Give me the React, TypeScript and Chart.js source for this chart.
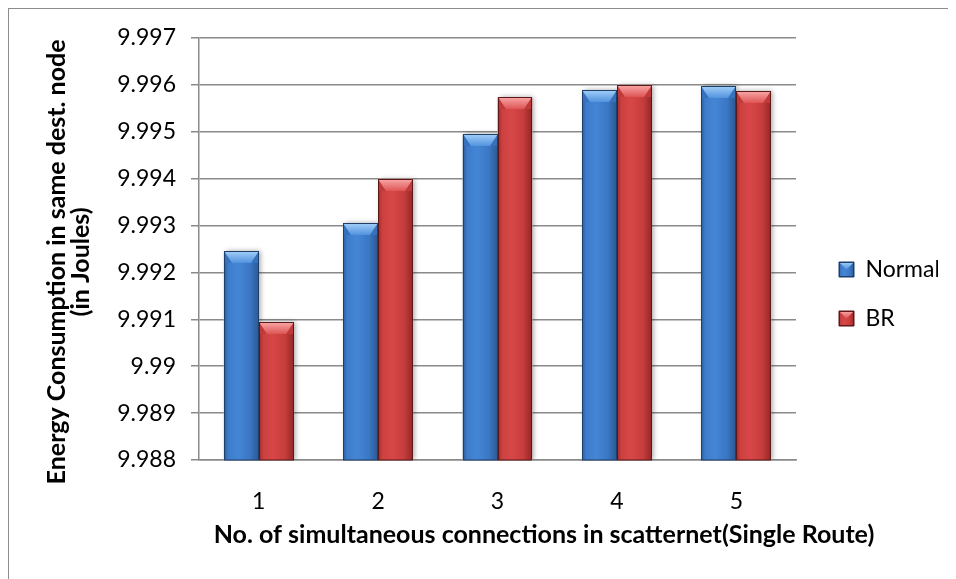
import React, { useEffect, useRef } from "react";
import { Chart, registerables } from "chart.js";

Chart.register(...registerables);

// ---- data ----
const categories = ["1", "2", "3", "4", "5"];
const seriesNames = ["Normal", "BR"];
const normalValues = [9.99245, 9.99305, 9.99494, 9.99588, 9.99597];
const brValues = [9.99094, 9.994, 9.99573, 9.996, 9.99586];
const yMin = 9.988;
const yMax = 9.997;
const yStep = 0.001;
const xTitle = "No. of simultaneous connections in scatternet(Single Route)";
const yTitleLines = ["Energy Consumption in same dest. node", "(in Joules)"];

// ---- styles ----
const FONT = "Lato, 'Open Sans', sans-serif";
const GRID = "#8a8a8a";
const LEGEND_FONT = 23;
const BOX = 15;

const palettes = [
  {
    base: "#3f7fcf",
    border: "#1f3f6b",
    stops: [
      [0, "#2d5c9a"],
      [0.12, "#3d7cca"],
      [0.4, "#4486d6"],
      [0.75, "#3a76c3"],
      [1, "#2b5891"],
    ],
    bevelTop: "#a3d0f9",
    bevelBottom: "#5292de",
    side: "#3571bd",
  },
  {
    base: "#d14343",
    border: "#5e1818",
    stops: [
      [0, "#9c2a2a"],
      [0.12, "#cc4040"],
      [0.4, "#d84747"],
      [0.75, "#c63c3c"],
      [1, "#922626"],
    ],
    bevelTop: "#f9a8a8",
    bevelBottom: "#de5555",
    side: "#c03a3a",
  },
];

const formatTick = (v: number) => String(parseFloat(Number(v).toFixed(3)));

const barStylePlugin = {
  id: "barStyle",
  beforeDatasetsDraw(chart: any) {
    const { ctx, chartArea } = chart;
    ctx.save();
    ctx.beginPath();
    ctx.rect(chartArea.left, chartArea.top - 20, chartArea.right - chartArea.left + 10, chartArea.bottom - chartArea.top + 20);
    ctx.clip();
    chart.data.datasets.forEach((_ds: any, di: number) => {
      const meta = chart.getDatasetMeta(di);
      meta.data.forEach((el: any) => {
        const { x, y, width } = el.getProps(["x", "y", "width"], true);
        ctx.shadowColor = "rgba(0,0,0,0.35)";
        ctx.shadowBlur = 5;
        ctx.shadowOffsetX = 2;
        ctx.shadowOffsetY = 0;
        ctx.fillStyle = "#ffffff";
        ctx.fillRect(x - width / 2, y, width, chartArea.bottom - y);
      });
    });
    ctx.restore();
  },
  afterDatasetsDraw(chart: any) {
    const { ctx, chartArea } = chart;
    ctx.save();
    chart.data.datasets.forEach((_ds: any, di: number) => {
      const pal = palettes[di];
      const meta = chart.getDatasetMeta(di);
      meta.data.forEach((el: any) => {
        const { x, y, width, base } = el.getProps(["x", "y", "width", "base"], true);
        const l = Math.round(x - width / 2);
        const r = Math.round(x + width / 2);
        const t = Math.round(y);
        const b = Math.round(Math.min(base, chartArea.bottom));
        const g = ctx.createLinearGradient(l, 0, r, 0);
        pal.stops.forEach(([o, c]: any) => g.addColorStop(o, c));
        ctx.fillStyle = g;
        ctx.fillRect(l, t, r - l, b - t);
        const bh = Math.min(12, (b - t) / 2);
        const inset = Math.min(8, (r - l) / 2);
        ctx.fillStyle = pal.side;
        ctx.beginPath();
        ctx.moveTo(l, t);
        ctx.lineTo(l + inset, t + bh);
        ctx.lineTo(l, t + bh);
        ctx.closePath();
        ctx.fill();
        ctx.beginPath();
        ctx.moveTo(r, t);
        ctx.lineTo(r - inset, t + bh);
        ctx.lineTo(r, t + bh);
        ctx.closePath();
        ctx.fill();
        const bg = ctx.createLinearGradient(0, t, 0, t + bh);
        bg.addColorStop(0, pal.bevelTop);
        bg.addColorStop(1, pal.bevelBottom);
        ctx.fillStyle = bg;
        ctx.beginPath();
        ctx.moveTo(l, t);
        ctx.lineTo(r, t);
        ctx.lineTo(r - inset, t + bh);
        ctx.lineTo(l + inset, t + bh);
        ctx.closePath();
        ctx.fill();
        ctx.strokeStyle = pal.border;
        ctx.lineWidth = 1;
        ctx.strokeRect(l + 0.5, t + 0.5, r - l - 1, b - t - 0.5);
      });
    });
    ctx.restore();
  },
  afterDraw(chart: any) {
    const { ctx, chartArea } = chart;
    ctx.save();
    // legend box bevel
    const legend = chart.legend;
    if (legend && legend.legendHitBoxes) {
      legend.legendHitBoxes.forEach((hb: any, i: number) => {
        const pal = palettes[i];
        const bx = Math.round(hb.left);
        const by = Math.round(hb.top + Math.max((LEGEND_FONT - BOX) / 2, 0));
        const g = ctx.createLinearGradient(bx, 0, bx + BOX, 0);
        pal.stops.forEach(([o, c]: any) => g.addColorStop(o, c));
        ctx.fillStyle = g;
        ctx.fillRect(bx, by, BOX, BOX);
        const tg = ctx.createLinearGradient(0, by, 0, by + BOX / 2);
        tg.addColorStop(0, pal.bevelTop);
        tg.addColorStop(1, pal.bevelBottom);
        ctx.fillStyle = tg;
        ctx.beginPath();
        ctx.moveTo(bx, by);
        ctx.lineTo(bx + BOX, by);
        ctx.lineTo(bx + BOX / 2, by + BOX / 2);
        ctx.closePath();
        ctx.fill();
        ctx.strokeStyle = pal.border;
        ctx.lineWidth = 1;
        ctx.strokeRect(bx + 0.5, by + 0.5, BOX - 1, BOX - 1);
      });
    }
    // axis titles
    ctx.fillStyle = "#000";
    ctx.font = `bold 25px ${FONT}`;
    ctx.textAlign = "center";
    ctx.textBaseline = "middle";
    ctx.fillText(xTitle, chartArea.left + 345, chartArea.bottom + 75);
    const cx = chartArea.left - 130;
    const cy = (chartArea.top + chartArea.bottom) / 2 + 13;
    ctx.translate(cx, cy);
    ctx.rotate(-Math.PI / 2);
    const lh = 24;
    const n = yTitleLines.length;
    yTitleLines.forEach((line, i) => ctx.fillText(line, 0, (i - (n - 1) / 2) * lh));
    ctx.restore();
  },
};

export default function App() {
  const ref = useRef<HTMLCanvasElement>(null);
  useEffect(() => {
    const chart = new Chart(ref.current as HTMLCanvasElement, {
      type: "bar",
      data: {
        labels: categories,
        datasets: [
          {
            label: seriesNames[0],
            data: normalValues,
            backgroundColor: palettes[0].base,
            borderColor: palettes[0].border,
            borderWidth: 1,
            categoryPercentage: 0.586,
            barPercentage: 1,
          },
          {
            label: seriesNames[1],
            data: brValues,
            backgroundColor: palettes[1].base,
            borderColor: palettes[1].border,
            borderWidth: 1,
            categoryPercentage: 0.586,
            barPercentage: 1,
          },
        ],
      },
      options: {
        responsive: false,
        animation: false,
        layout: { padding: { left: 0, right: 10, top: 0, bottom: 0 } },
        plugins: {
          title: {
            display: true,
            text: " ",
            font: { size: 10, lineHeight: 1 },
            padding: { top: 17, bottom: 0 },
          },
          legend: {
            position: "right",
            align: "center",
            maxWidth: 125,
            labels: {
              boxWidth: BOX,
              boxHeight: BOX,
              padding: 26,
              color: "#000",
              font: { family: FONT, size: LEGEND_FONT },
            },
          },
          tooltip: { enabled: false },
        },
        scales: {
          x: {
            grid: { display: false },
            border: { display: true, color: GRID, width: 1.5 },
            ticks: { color: "#000", font: { family: FONT, size: 23 }, padding: 20 },
            afterFit: (s: any) => {
              s.height = 119;
            },
          },
          y: {
            min: yMin,
            max: yMax,
            ticks: {
              stepSize: yStep,
              color: "#000",
              font: { family: FONT, size: 23 },
              padding: 15,
              callback: (v: any) => formatTick(v),
            },
            grid: { color: GRID, lineWidth: 1.5, tickLength: 8, drawTicks: true },
            border: { display: true, color: GRID, width: 1.5 },
            afterFit: (s: any) => {
              s.width = 190;
            },
          },
          y2: {
            position: "right",
            display: true,
            grid: { display: false },
            ticks: { display: false },
            border: { display: false },
            afterFit: (s: any) => {
              s.width = 17;
            },
          },
        },
      } as any,
      plugins: [barStylePlugin],
    });
    return () => chart.destroy();
  }, []);
  return (
    <div
      style={{
        width: 940,
        height: 571,
        boxSizing: "border-box",
        borderLeft: "1px solid #8c8c8c",
        borderTop: "1px solid #8c8c8c",
        overflow: "hidden",
      }}
    >
      <canvas ref={ref} width={939} height={570} style={{ display: "block" }} />
    </div>
  );
}
